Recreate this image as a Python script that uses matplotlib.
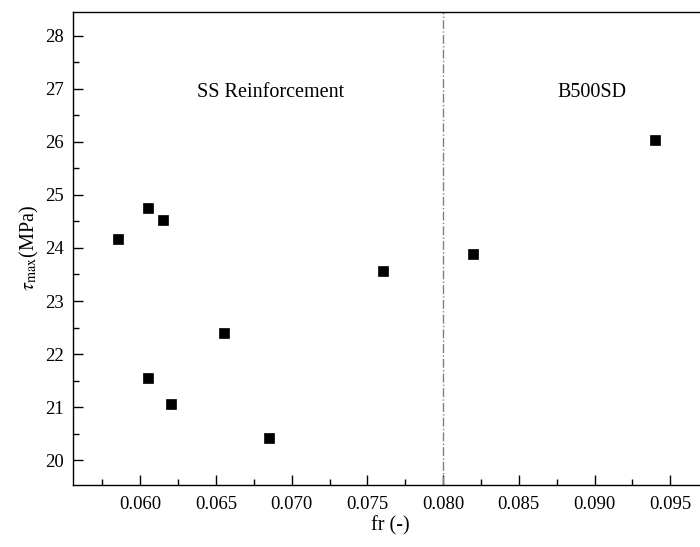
import numpy as np
import matplotlib
matplotlib.use('Agg')
import matplotlib.pyplot as plt
from matplotlib.ticker import MultipleLocator, FormatStrFormatter

plt.rcParams['font.family'] = 'Liberation Serif'
plt.rcParams['mathtext.fontset'] = 'stix'

# fr (-) and tau_max (MPa)
fr_ss = [0.0585, 0.0605, 0.0615, 0.0760, 0.0655, 0.0605, 0.0620, 0.0685]
tau_ss = [24.17, 24.75, 24.53, 23.56, 22.40, 21.55, 21.05, 20.42]
fr_b500 = [0.0820, 0.0940]
tau_b500 = [23.88, 26.03]
fr_split = 0.080

fig = plt.figure(figsize=(7.0, 5.47), dpi=100)
# axes run past the right edge of the figure (cropped like the original)
ax = fig.add_axes([73.4 / 700, 62 / 547, 634.7 / 700, 473.5 / 547])

ax.plot(fr_ss + fr_b500, tau_ss + tau_b500, 's', color='black',
        markersize=7.5, markeredgewidth=0.5, linestyle='none')
ax.axvline(fr_split, color='#808080', linestyle='-.', linewidth=1.0)

ax.set_xlim(0.05558, 0.0975)
ax.set_ylim(19.53, 28.46)

ax.xaxis.set_major_locator(MultipleLocator(0.005))
ax.xaxis.set_minor_locator(MultipleLocator(0.0025))
ax.xaxis.set_major_formatter(FormatStrFormatter('%.3f'))
ax.yaxis.set_major_locator(MultipleLocator(1))
ax.yaxis.set_minor_locator(MultipleLocator(0.5))
ax.tick_params(which='both', direction='in', labelsize=13.5, width=1)
ax.tick_params(which='major', length=7)
ax.tick_params(which='minor', length=4)
ax.tick_params(axis='x', pad=8)
ax.tick_params(axis='y', pad=7)

for s in ax.spines.values():
    s.set_linewidth(1.0)

ax.set_xlabel('fr (-)', fontsize=14.5, labelpad=2)
ax.set_ylabel(r'$\tau_{\rm max}$(MPa)', fontsize=14.5, labelpad=3)

ax.text(0.0686, 26.93, 'SS Reinforcement', fontsize=14.5, ha='center', va='center')
ax.text(0.0898, 26.93, 'B500SD', fontsize=14.5, ha='center', va='center')

fig.savefig('out.png', dpi=100)
